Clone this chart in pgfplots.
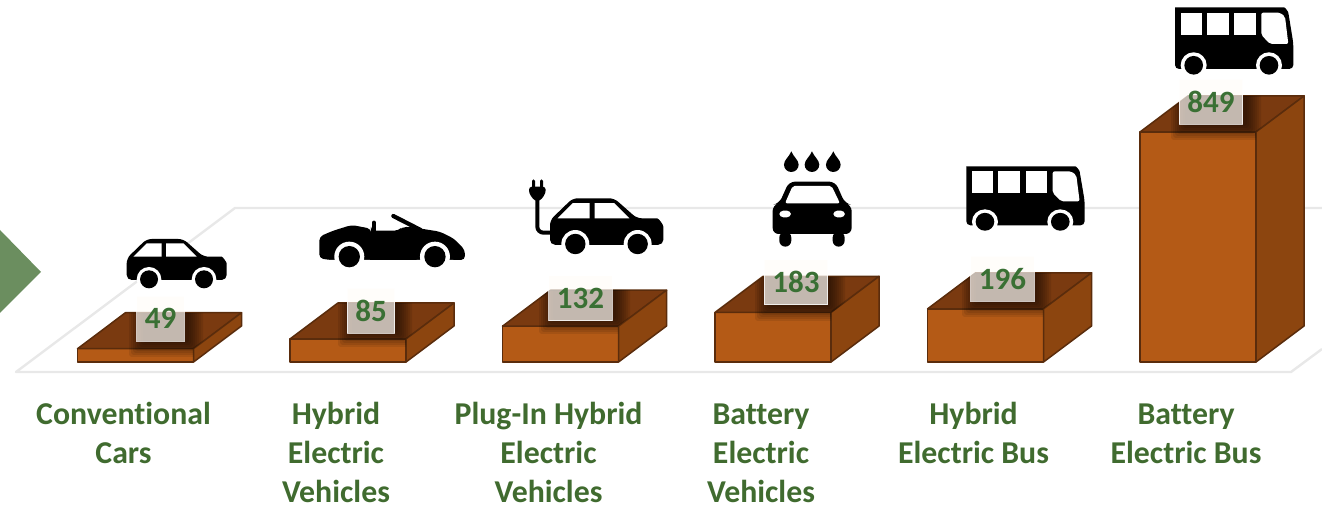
\documentclass[border=0pt]{standalone}
\usepackage{pgfplots}
\pgfplotsset{compat=1.18}
\usepackage{fontspec}
\setmainfont[Ligatures=NoCommon]{Carlito}
\definecolor{cfront}{HTML}{B45A16}
\definecolor{cside}{HTML}{8C450F}
\definecolor{ctop}{HTML}{7A3A10}
\definecolor{cedge}{HTML}{5A2C0C}
\definecolor{clabel}{HTML}{406B2F}
\definecolor{cval}{HTML}{3A7034}
\definecolor{cfloor}{HTML}{E8E8E8}
\definecolor{carrow}{HTML}{6B8E5F}
\definecolor{cbox}{HTML}{FFFCF8}
\pgfplotsset{
  chartbase/.style={
    at={(0,0)},anchor=south west,
    scale only axis,width=1322pt,height=505pt,
    xmin=-0.6376,xmax=5.5835,ymin=-527.68,ymax=1335.8,
    clip=false},
  barface/.style={draw=cedge,line width=1.5pt,line join=round},
}
% car, local coordinates: 3 units per pixel
\newcommand{\sedan}{%
  \fill[black,rounded corners=5pt] (0,58) -- (60,0) -- (170,0) -- (230,53) -- (270,53)
     to[out=0,in=90] (300,88) -- (300,123) -- (0,123) -- cycle;
  \fill[white] (20,53) -- (60,13) -- (105,13) -- (105,53) -- cycle;
  \fill[white] (118,13) -- (170,13) -- (210,53) -- (118,53) -- cycle;
  \fill[white] (67,121) circle[radius=37] (232,121) circle[radius=37];
  \fill[black] (67,121) circle[radius=27] (232,121) circle[radius=27];
}
\newcommand{\bus}{%
  \fill[black,rounded corners=4pt] (0,12) to[out=90,in=180] (14,0) -- (315,0)
     to[out=0,in=100] (342,28) -- (355,108) -- (355,185) -- (0,185) -- cycle;
  \fill[white] (17,16) rectangle (80,83);
  \fill[white] (96,16) rectangle (161,83);
  \fill[white] (178,16) rectangle (242,83);
  \fill[white,rounded corners=2pt] (259,16) -- (315,16) -- (330,28) -- (340,110) -- (285,110) -- (259,83) -- cycle;
  \fill[white] (56,174) circle[radius=39] (282,174) circle[radius=39];
  \fill[black] (56,174) circle[radius=28] (282,174) circle[radius=28];
}
\newcommand{\valshadow}[6]{% L top boxL boxR boxT boxB (pixels)
  \begin{scope}
    \clip (#1,362) -- (#1+116,362) -- (#1+116,#2) -- (#1+164,#2-36) -- (#1+48,#2-36) -- (#1,#2) -- cycle;
    \foreach \e in {0,2,...,14}
      \fill[black,opacity=.085,rounded corners=3pt] (#3+6-\e,#5-\e) rectangle (#4+3+\e,#6+1+\e);
  \end{scope}
}
\begin{document}
\begin{tikzpicture}
\useasboundingbox (0,0) rectangle (1322pt,505pt);
% floor and arrow, in reference pixels
\begin{scope}[yshift=505pt,x=1pt,y=-1pt]
  \draw[cfloor,line width=2.4pt,line join=round] (1322,208) -- (235,208) -- (16,372) -- (1291,372) -- (1322,349);
  \fill[carrow] (0,230) -- (41,272) -- (0,313) -- cycle;
\end{scope}
\begin{axis}[chartbase,
    axis line style={draw=none},
    ytick=\empty,
    xtick={0,1,2,3,4,5},
    major tick length=0pt,
    xticklabels={{\strut Conventional\\Cars},{\strut Hybrid\\Electric\\Vehicles},{\strut Plug-In Hybrid\\Electric\\Vehicles},{\strut Battery\\Electric\\Vehicles},{\strut Hybrid\\Electric Bus},{\strut Battery\\Electric Bus}},
    xticklabel style={anchor=north,align=center,inner sep=0pt,xshift=-12pt,yshift=108pt,
      text=clabel,font=\fontsize{31.8}{39}\selectfont\bfseries},
  ]
  % front faces
  \addplot[ybar,bar width=116pt,bar shift=0pt,fill=cfront,barface] coordinates {(0,49) (1,85) (2,132) (3,183) (4,196) (5,849)};
  % top faces
  \addplot[fill=ctop,barface] coordinates {(-.273,49) (.273,49) (.499,182) (-.047,182)} --cycle;
  \addplot[fill=ctop,barface] coordinates {(.727,85) (1.273,85) (1.499,218) (.953,218)} --cycle;
  \addplot[fill=ctop,barface] coordinates {(1.727,132) (2.273,132) (2.499,265) (1.953,265)} --cycle;
  \addplot[fill=ctop,barface] coordinates {(2.727,183) (3.273,183) (3.499,316) (2.953,316)} --cycle;
  \addplot[fill=ctop,barface] coordinates {(3.727,196) (4.273,196) (4.499,329) (3.953,329)} --cycle;
  \addplot[fill=ctop,barface] coordinates {(4.727,849) (5.273,849) (5.499,982) (4.953,982)} --cycle;
  % side faces
  \addplot[fill=cside,barface] coordinates {(.273,0) (.499,133) (.499,182) (.273,49)} --cycle;
  \addplot[fill=cside,barface] coordinates {(1.273,0) (1.499,133) (1.499,218) (1.273,85)} --cycle;
  \addplot[fill=cside,barface] coordinates {(2.273,0) (2.499,133) (2.499,265) (2.273,132)} --cycle;
  \addplot[fill=cside,barface] coordinates {(3.273,0) (3.499,133) (3.499,316) (3.273,183)} --cycle;
  \addplot[fill=cside,barface] coordinates {(4.273,0) (4.499,133) (4.499,329) (4.273,196)} --cycle;
  \addplot[fill=cside,barface] coordinates {(5.273,0) (5.499,133) (5.499,982) (5.273,849)} --cycle;
\end{axis}
\begin{scope}[yshift=505pt,x=1pt,y=-1pt]
  % soft shadows of the value boxes
  \valshadow{77}{349}{137}{186}{298}{342}
  \valshadow{290}{339}{346}{395}{288}{332}
  \valshadow{502}{326}{547}{613}{275}{319}
  \valshadow{715}{313}{763}{828}{260}{306}
  \valshadow{927}{309}{970}{1034}{256}{302}
  \valshadow{1140}{132}{1179}{1244}{81}{125}
  % conventional car
  \begin{scope}[shift={(126.7,239)},scale=.3333] \sedan \end{scope}
  % convertible
  \begin{scope}[shift={(0,190)},scale=.3333]
    \fill[black,rounded corners=4pt] (958,205) -- (958,140) -- (1000,122) -- (1055,105) -- (1113,116) -- (1113,122) -- (1195,122) -- (1207,111) -- (1232,111) -- (1320,125) -- (1362,146) -- (1395,180) -- (1395,210) -- (990,210) -- cycle;
    \draw[black,line width=4.2pt,line cap=round] (1122,98) -- (1122,122);
    \draw[black,line width=4.2pt,line cap=round] (1180,78) -- (1262,120);
    \fill[white] (1048,200) circle[radius=45] (1305,200) circle[radius=45];
    \fill[white] (990,210) rectangle (1110,240) (1250,210) rectangle (1360,240);
    \fill[black] (1048,200) circle[radius=32] (1305,200) circle[radius=32];
  \end{scope}
  % plug-in car
  \begin{scope}[shift={(550,198.3)},scale=.3778] \sedan \end{scope}
  \begin{scope}[shift={(490,140)},scale=.3333]
    \draw[black,line width=4pt,rounded corners=6pt] (185,278) -- (142,278) -- (142,172);
    \fill[black,rounded corners=3pt] (117,140) -- (167,140) -- (167,160) -- (150,183) -- (134,183) -- (117,160) -- cycle;
    \fill[black,rounded corners=1.5pt] (126,118) rectangle (135,145) (150,118) rectangle (159,145);
  \end{scope}
  % car under rain
  \begin{scope}[shift={(490,140)},scale=.3333]
    \foreach \d in {904,966,1030}{
      \fill[black] (\d,34) .. controls (\d+6,50) and (\d+22,60) .. (\d+22,74)
         arc[start angle=0,end angle=180,radius=22] .. controls (\d-22,60) and (\d-6,50) .. (\d,34) -- cycle;
    }
    \fill[black,rounded corners=6pt] (848,195) -- (868,190) -- (897,125) -- (1036,125) -- (1065,190) -- (1085,195) -- (1085,282) -- (848,282) -- cycle;
    \fill[black,rounded corners=6pt] (868,275) rectangle (904,320) (1028,275) rectangle (1064,320);
    \fill[white,rounded corners=2pt] (885,190) -- (908,138) -- (1025,138) -- (1050,190) -- cycle;
    \fill[white,rounded corners=4pt] (868,212) rectangle (903,232) (1030,212) rectangle (1065,232);
  \end{scope}
  % buses
  \begin{scope}[shift={(966.3,166.3)},xscale=.3333,yscale=.3189] \bus \end{scope}
  \begin{scope}[shift={(1175,7.3)},scale=.3333] \bus \end{scope}
\end{scope}
% value labels, on top of everything
\begin{axis}[chartbase,hide axis]
  \addplot[draw=none,mark=none,
    point meta=y,
    visualization depends on={\thisrow{xs} \as \xs},
    visualization depends on={\thisrow{ys} \as \ys},
    nodes near coords,
    /pgf/number format/assume math mode=true,
    nodes near coords style={anchor=center,xshift=\xs pt,yshift=\ys pt,
      font=\fontsize{31}{33}\selectfont\bfseries,text=cval,
      fill=cbox,fill opacity=.7,text opacity=1,
      draw=white,draw opacity=.75,line width=1pt,
      minimum height=45pt,inner xsep=8pt,inner ysep=0pt},
  ] table[x=x,y=y] {
    x y   xs  ys
    0 49  25  30
    1 85  23  28
    2 132 20  28
    3 183 23  30
    4 196 17  30
    5 849 13  30
  };
\end{axis}
\end{tikzpicture}
\end{document}
